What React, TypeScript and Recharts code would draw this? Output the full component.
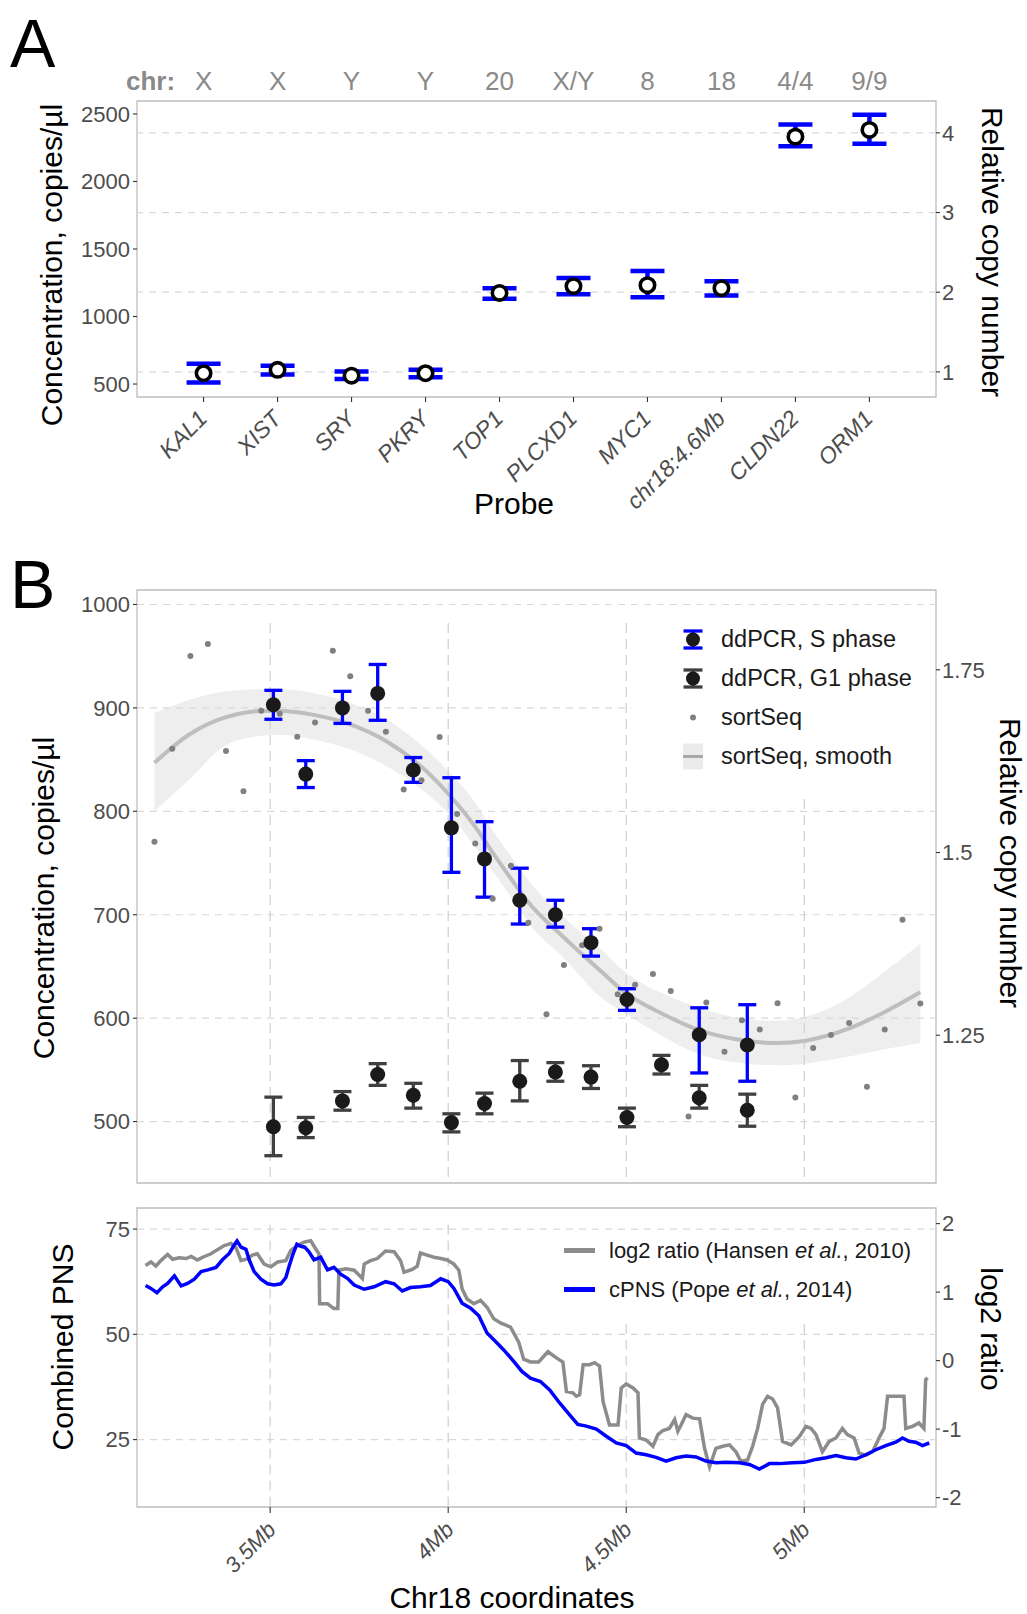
import React from "react"
import { Area, ComposedChart, ErrorBar, Legend, Line, ReferenceArea, ReferenceLine, Scatter, XAxis, YAxis } from "recharts"

const FONT = "'Liberation Sans', Arial, Helvetica, sans-serif"
const TICK_GREY = "#4D4D4D"
const GRID = "#D9D9D9"
const VGRID = "#CFCFCF"
const BORDER = "#BDBDBD"
const BLUE = "#0000FF"

// ---------- panel A: probes ----------
const probes = ["KAL1", "XIST", "SRY", "PKRY", "TOP1", "PLCXD1", "MYC1", "chr18:4.6Mb", "CLDN22", "ORM1"]
const probeChr = ["X", "X", "Y", "Y", "20", "X/Y", "8", "18", "4/4", "9/9"]
const probeConc = [580, 605, 562, 580, 1175, 1225, 1232, 1210, 2332, 2382]
const probeLow = [512, 570, 537, 550, 1132, 1165, 1142, 1155, 2260, 2280]
const probeHigh = [650, 635, 592, 605, 1210, 1285, 1337, 1262, 2422, 2495]
const concTicksA = [500, 1000, 1500, 2000, 2500]
const copyTicksA = [1, 2, 3, 4]
const COPY_UNIT = 590 // copies/µl per relative copy

// ---------- panel B top: ddPCR vs sortSeq ----------
const mbTicks = [3.5, 4, 4.5, 5]
const sPhaseMb = [3.509, 3.6, 3.703, 3.802, 3.902, 4.009, 4.102, 4.201, 4.301, 4.401, 4.502, 4.705, 4.84]
const sPhase = [903, 836, 900, 914, 840, 784, 754, 714, 700, 673, 618, 584, 574]
const sPhaseLow = [889, 823, 885, 888, 828, 741, 717, 691, 688, 660, 607.5, 547, 539]
const sPhaseHigh = [917, 849, 916, 942, 852, 832.5, 790, 745, 714, 686.5, 628.5, 610, 613]

const g1Mb = [3.509, 3.6, 3.703, 3.802, 3.902, 4.009, 4.102, 4.201, 4.301, 4.401, 4.502, 4.599, 4.705, 4.84]
const g1 = [495, 494, 520, 545.5, 525.5, 499, 517.5, 539, 548, 543, 504, 555, 523, 511]
const g1Low = [467, 484.5, 511, 535, 513, 490, 507.5, 520, 539, 532, 495, 546, 513, 495.5]
const g1High = [523.6, 504, 529, 556, 537, 507.5, 527.5, 559, 557, 554, 513, 564, 535, 526.5]

const sortMb = [3.175, 3.225, 3.276, 3.325, 3.376, 3.425, 3.475, 3.527, 3.576, 3.626, 3.676, 3.725, 3.775, 3.825, 3.875,
  3.925, 3.976, 4.025, 4.076, 4.125, 4.176, 4.225, 4.276, 4.325, 4.376, 4.425, 4.476, 4.525, 4.575, 4.625, 4.675, 4.725,
  4.776, 4.825, 4.875, 4.925, 4.975, 5.025, 5.075, 5.126, 5.176, 5.226, 5.276, 5.326]
const sortConc = [770.6, 860.4, 950.3, 961.7, 858.3, 819.3, 897.3, 894.4, 872.2, 885.8, 955.3, 930.6, 897.3, 876.9, 821,
  830, 871.9, 797.4, 768.8, 715.5, 747.3, 692.2, 603.8, 651.4, 670.4, 686.5, 623.1, 632.4, 642.8, 626.3, 505, 615.2,
  567.6, 598, 589.1, 614.5, 523.3, 571.2, 583.8, 595.2, 533.6, 589.1, 695.1, 614.2]

const smoothMb = [3.175, 3.276, 3.376, 3.475, 3.527, 3.626, 3.725, 3.825, 3.925, 4.0, 4.076, 4.125, 4.176, 4.225, 4.325,
  4.427, 4.5, 4.6, 4.705, 4.84, 4.925, 5.0, 5.126, 5.226, 5.326]
const smoothFit = [847, 875, 891, 897, 897, 893, 884, 868, 843, 817, 785, 760, 735, 712, 678, 646, 624, 604.5, 588.4, 578,
  576, 578, 590, 606, 625]
const smoothLow = [800, 832, 864, 873, 874, 869, 860, 844, 821, 798, 765.6, 742.3, 717.3, 692.2, 658.2, 620.6, 604, 583,
  565, 556, 554.4, 556, 563, 570, 576]
const smoothHigh = [895, 908, 916, 918, 918, 914, 905, 889, 864, 839, 808.5, 781.7, 756.6, 733.4, 697.6, 667.1, 644, 624.2,
  610, 599, 597.4, 601, 620, 645, 672]
const concTicksB = [500, 600, 700, 800, 900, 1000]
const relTicksB = [1.25, 1.5, 1.75]

// ---------- panel B bottom: PNS and log2 ratio ----------
const cpnsMb = [3.15, 3.165, 3.182, 3.198, 3.212, 3.231, 3.25, 3.268, 3.287, 3.306, 3.325, 3.348, 3.366, 3.385, 3.399,
  3.407, 3.418, 3.432, 3.441, 3.455, 3.474, 3.493, 3.511, 3.53, 3.544, 3.553, 3.563, 3.575, 3.586, 3.597, 3.609, 3.623,
  3.642, 3.661, 3.679, 3.698, 3.717, 3.736, 3.764, 3.792, 3.824, 3.848, 3.871, 3.894, 3.922, 3.95, 3.979, 4.0, 4.016,
  4.039, 4.063, 4.086, 4.109, 4.133, 4.156, 4.184, 4.207, 4.231, 4.259, 4.285, 4.313, 4.341, 4.364, 4.388, 4.416, 4.444,
  4.472, 4.5, 4.528, 4.556, 4.584, 4.612, 4.64, 4.668, 4.696, 4.724, 4.752, 4.78, 4.818, 4.846, 4.874, 4.902, 4.93, 4.967,
  5.0, 5.033, 5.061, 5.089, 5.117, 5.145, 5.173, 5.201, 5.229, 5.257, 5.276, 5.294, 5.313, 5.332, 5.351]
const cpns = [61.6, 60.9, 59.9, 61.3, 62.1, 63.9, 61.5, 62.1, 63.1, 64.9, 65.3, 65.9, 67.7, 69.2, 71.2, 72.2, 70.7, 70.2,
  67.7, 64.9, 63.1, 62.0, 61.7, 62.0, 63.5, 66.1, 68.8, 71.4, 70.9, 70.7, 69.6, 67.7, 68.3, 65.3, 65.9, 64.3, 63.3, 61.7,
  60.7, 61.3, 62.5, 62.0, 60.3, 61.1, 61.3, 61.6, 63.2, 62.5, 60.9, 57.4, 56.2, 54.4, 50.3, 48.3, 46.3, 43.6, 41.2, 39.6,
  38.8, 36.8, 33.7, 30.9, 28.6, 28.2, 27.5, 25.8, 24.2, 23.6, 21.8, 21.4, 20.8, 19.9, 20.7, 21.1, 20.9, 19.9, 19.5, 19.6,
  19.5, 19.1, 18.0, 19.3, 19.3, 19.5, 19.6, 20.3, 20.7, 21.2, 20.7, 20.4, 21.4, 22.6, 23.6, 24.4, 25.4, 24.6, 24.4, 23.6,
  24.2]

const log2Mb = [3.15, 3.165, 3.179, 3.193, 3.212, 3.226, 3.245, 3.264, 3.278, 3.296, 3.315, 3.334, 3.352, 3.371, 3.39,
  3.404, 3.418, 3.437, 3.45, 3.464, 3.483, 3.502, 3.521, 3.544, 3.558, 3.577, 3.595, 3.614, 3.628, 3.637, 3.639, 3.661,
  3.679, 3.69, 3.693, 3.712, 3.736, 3.759, 3.764, 3.782, 3.801, 3.824, 3.848, 3.866, 3.876, 3.899, 3.913, 3.922, 3.941,
  3.96, 3.979, 3.997, 4.016, 4.03, 4.039, 4.053, 4.072, 4.091, 4.109, 4.128, 4.147, 4.175, 4.198, 4.212, 4.231, 4.254,
  4.28, 4.304, 4.322, 4.332, 4.35, 4.36, 4.369, 4.379, 4.397, 4.411, 4.425, 4.435, 4.453, 4.477, 4.486, 4.5, 4.519, 4.533,
  4.537, 4.556, 4.575, 4.589, 4.603, 4.621, 4.636, 4.645, 4.654, 4.668, 4.687, 4.706, 4.72, 4.734, 4.752, 4.771, 4.79,
  4.808, 4.822, 4.841, 4.855, 4.869, 4.883, 4.897, 4.911, 4.925, 4.939, 4.963, 4.986, 5.005, 5.019, 5.033, 5.051, 5.07,
  5.089, 5.107, 5.121, 5.14, 5.154, 5.173, 5.192, 5.21, 5.224, 5.234, 5.257, 5.28, 5.285, 5.304, 5.322, 5.336, 5.341,
  5.346]
const log2Ratio = [1.39, 1.44, 1.38, 1.46, 1.55, 1.48, 1.5, 1.49, 1.52, 1.47, 1.52, 1.56, 1.62, 1.68, 1.71, 1.65, 1.46,
  1.49, 1.54, 1.56, 1.41, 1.37, 1.44, 1.46, 1.61, 1.68, 1.73, 1.75, 1.63, 1.56, 0.83, 0.83, 0.76, 0.76, 1.32, 1.34, 1.32,
  1.2, 1.41, 1.46, 1.49, 1.6, 1.59, 1.46, 1.29, 1.33, 1.38, 1.57, 1.54, 1.51, 1.49, 1.47, 1.41, 1.32, 1.05, 0.9, 0.83,
  0.88, 0.78, 0.61, 0.55, 0.49, 0.27, 0.02, -0.02, -0.02, 0.13, 0.04, -0.02, -0.45, -0.47, -0.52, -0.5, -0.06, -0.06,
  -0.03, -0.08, -0.6, -0.94, -0.94, -0.4, -0.34, -0.4, -0.47, -1.13, -1.16, -1.25, -1.08, -1.02, -0.99, -0.86, -1.03,
  -0.94, -0.79, -0.84, -0.85, -1.28, -1.55, -1.28, -1.25, -1.23, -1.33, -1.47, -1.45, -1.25, -0.99, -0.64, -0.52, -0.56,
  -0.69, -1.18, -1.23, -1.11, -0.96, -0.99, -1.08, -1.33, -1.18, -1.13, -0.99, -1.08, -1.13, -1.35, -1.38, -1.33, -1.13,
  -0.99, -0.52, -0.52, -0.52, -0.99, -0.96, -0.91, -0.99, -0.28, -0.25]
const pnsTicks = [25, 50, 75]
const log2Ticks = [-2, -1, 0, 1, 2]

// axis ranges
const A_X: [number, number] = [0.1, 10.9]
const A_Y: [number, number] = [404, 2596]
const A_R: [number, number] = [A_Y[0] / COPY_UNIT, A_Y[1] / COPY_UNIT]
const B_X: [number, number] = [3.126, 5.37]
const B_Y: [number, number] = [440.6, 1014]
const B_R: [number, number] = [1.0478, 1.8592]
const C_Y: [number, number] = [9, 80]
const C_R: [number, number] = [-2.137, 2.228]

// where the legends hide the grid
const legTopConc = 982
const legBottomConc = 812
const legLeftMb = 4.515
const vTopPns = 76
const legBottomPns = 52.5
const legLeftPnsMb = 4.3

const probeRows = probes.map((p, i) => ({
  x: i + 1, y: probeConc[i], err: [probeConc[i] - probeLow[i], probeHigh[i] - probeConc[i]],
}))
const sRows = sPhaseMb.map((x, i) => ({ x, y: sPhase[i], err: [sPhase[i] - sPhaseLow[i], sPhaseHigh[i] - sPhase[i]] }))
const g1Rows = g1Mb.map((x, i) => ({ x, y: g1[i], err: [g1[i] - g1Low[i], g1High[i] - g1[i]] }))
const sortRows = sortMb.map((x, i) => ({ x, y: sortConc[i] }))
const smoothRows = smoothMb.map((x, i) => ({ x, fit: smoothFit[i], band: [smoothLow[i], smoothHigh[i]] }))
const bottomRows = [
  ...cpnsMb.map((x, i) => ({ x, pns: cpns[i] })),
  ...log2Mb.map((x, i) => ({ x, log2: log2Ratio[i] })),
].sort((a, b) => a.x - b.x)

const tickStyle = { fill: TICK_GREY, fontSize: 22, fontFamily: FONT }
const tickLine = { stroke: "#333333", strokeWidth: 1.1 }

const ChrTick = (props: any) => (
  <text x={props.x} y={90} textAnchor="middle" fill="#8A8A8A" fontSize={26} fontFamily={FONT}>
    {probeChr[Math.round(props.payload.value) - 1]}
  </text>
)

const ProbeTick = (props: any) => {
  const ax = props.x + 5
  const ay = props.y + 16
  return (
    <text x={ax} y={ay} transform={`rotate(-45 ${ax} ${ay})`} textAnchor="end" fill={TICK_GREY}
      fontSize={23} fontStyle="italic" fontFamily={FONT}>
      {probes[Math.round(props.payload.value) - 1]}
    </text>
  )
}

const MbTick = (props: any) => {
  const ax = props.x + 7
  const ay = props.y + 16
  return (
    <text x={ax} y={ay} transform={`rotate(-45 ${ax} ${ay})`} textAnchor="end" fill={TICK_GREY}
      fontSize={22} fontStyle="italic" fontFamily={FONT}>
      {`${props.payload.value}Mb`}
    </text>
  )
}

const openCircle = (p: any) => <circle cx={p.cx} cy={p.cy} r={7.2} fill="#FFFFFF" stroke="#000000" strokeWidth={3.6} />
const bigDot = (p: any) => <circle cx={p.cx} cy={p.cy} r={7.5} fill="#1A1A1A" />
const smallDot = (p: any) => <circle cx={p.cx} cy={p.cy} r={3} fill="#808080" />

const barKey = (color: string) => (
  <svg width={28} height={39}>
    <line x1={14} y1={11} x2={14} y2={28} stroke={color} strokeWidth={3.3} />
    <line x1={4.5} y1={11} x2={23.5} y2={11} stroke={color} strokeWidth={3.3} />
    <line x1={4.5} y1={28} x2={23.5} y2={28} stroke={color} strokeWidth={3.3} />
    <circle cx={14} cy={19.5} r={7} fill="#1A1A1A" />
  </svg>
)

const topLegendItems = [
  { label: "ddPCR, S phase", key: barKey(BLUE) },
  { label: "ddPCR, G1 phase", key: barKey("#404040") },
  { label: "sortSeq", key: <svg width={28} height={39}><circle cx={14} cy={19.5} r={3} fill="#808080" /></svg> },
  {
    label: "sortSeq, smooth",
    key: (
      <svg width={28} height={39}>
        <rect x={4} y={6.5} width={20} height={26} fill="#EBEBEB" />
        <line x1={4} y1={19.5} x2={24} y2={19.5} stroke="#A8A8A8" strokeWidth={3} />
      </svg>
    ),
  },
]

const TopLegend = () => (
  <div style={{ fontFamily: FONT, fontSize: 23.5, color: "#1A1A1A", background: "transparent" }}>
    {topLegendItems.map((it) => (
      <div key={it.label} style={{ display: "flex", alignItems: "center", height: 39 }}>
        {it.key}
        <span style={{ marginLeft: 14, whiteSpace: "nowrap" }}>{it.label}</span>
      </div>
    ))}
  </div>
)

const BottomLegend = () => (
  <div style={{ fontFamily: FONT, fontSize: 22, color: "#1A1A1A" }}>
    {[
      { color: "#8C8C8C", text: <>log2 ratio (Hansen <i>et al.</i>, 2010)</> },
      { color: BLUE, text: <>cPNS (Pope <i>et al.</i>, 2014)</> },
    ].map((it, i) => (
      <div key={i} style={{ display: "flex", alignItems: "center", height: 39 }}>
        <svg width={31} height={39}>
          <line x1={0} y1={19.5} x2={31} y2={19.5} stroke={it.color} strokeWidth={5} />
        </svg>
        <span style={{ marginLeft: 14, whiteSpace: "nowrap" }}>{it.text}</span>
      </div>
    ))}
  </div>
)

const frame = (x: [number, number], y: [number, number], yId: string) => (
  <ReferenceArea yAxisId={yId} x1={x[0]} x2={x[1]} y1={y[0]} y2={y[1]} fill="none" stroke={BORDER}
    strokeWidth={1.3} ifOverflow="visible" />
)

const Title = ({ x, y, angle = 0, size = 30, children }: any) => (
  <text transform={`translate(${x} ${y}) rotate(${angle})`} textAnchor="middle" dominantBaseline="central"
    fontSize={size} fontFamily={FONT} fill="#000000">
    {children}
  </text>
)

export default function App() {
  return (
    <div style={{ position: "absolute", left: 0, top: 0, width: 1027, height: 1614, background: "#FFFFFF" }}>
      {/* A */}
      <div style={{ position: "absolute", left: 0, top: 0 }}>
        <ComposedChart width={1027} height={540} margin={{ top: 61, right: 0, bottom: 0, left: 0 }}>
          <XAxis xAxisId="chr" orientation="top" type="number" dataKey="x" domain={A_X} ticks={probeRows.map((r) => r.x)}
            height={40} axisLine={false} tickLine={false} tick={<ChrTick />} interval={0} allowDataOverflow />
          <XAxis type="number" dataKey="x" domain={A_X} ticks={probeRows.map((r) => r.x)} height={143}
            axisLine={false} tickLine={tickLine} tickSize={5} tickMargin={2} tick={<ProbeTick />} interval={0}
            allowDataOverflow />
          <YAxis yAxisId="left" type="number" domain={A_Y} ticks={concTicksA} width={137} axisLine={false}
            tickLine={tickLine} tickSize={4} tickMargin={3} tick={tickStyle} interval={0} allowDataOverflow />
          <YAxis yAxisId="right" orientation="right" type="number" domain={A_R} ticks={copyTicksA} width={91}
            axisLine={false} tickLine={tickLine} tickSize={4} tickMargin={2} tick={tickStyle} interval={0}
            allowDataOverflow />
          {copyTicksA.map((v) => (
            <ReferenceLine key={v} yAxisId="right" y={v} stroke={GRID} strokeWidth={1.2} strokeDasharray="7 6" />
          ))}
          {frame(A_X, A_Y, "left")}
          <Scatter yAxisId="left" data={probeRows} dataKey="y" shape={openCircle} isAnimationActive={false}>
            <ErrorBar dataKey="err" direction="y" width={17} stroke={BLUE} strokeWidth={4.5} />
          </Scatter>
        </ComposedChart>
      </div>

      {/* B top */}
      <div style={{ position: "absolute", left: 0, top: 540 }}>
        <ComposedChart width={1027} height={660} data={smoothRows} margin={{ top: 50, right: 0, bottom: 0, left: 0 }}>
          <XAxis type="number" dataKey="x" domain={B_X} ticks={mbTicks} height={17} axisLine={false}
            tickLine={tickLine} tickSize={6} tick={false} interval={0} allowDataOverflow />
          <YAxis yAxisId="left" type="number" domain={B_Y} ticks={concTicksB} width={137} axisLine={false}
            tickLine={tickLine} tickSize={4} tickMargin={3} tick={tickStyle} interval={0} allowDataOverflow />
          <YAxis yAxisId="right" orientation="right" type="number" domain={B_R} ticks={relTicksB} width={91}
            axisLine={false} tickLine={tickLine} tickSize={4} tickMargin={2} tick={tickStyle} interval={0}
            allowDataOverflow />
          {concTicksB.map((v) => (
            <ReferenceLine key={`h${v}`} yAxisId="left" stroke={GRID} strokeWidth={1.2} strokeDasharray="7 6"
              segment={[{ x: B_X[0], y: v }, { x: v > legBottomConc && v < legTopConc ? legLeftMb : B_X[1], y: v }]} />
          ))}
          {mbTicks.map((m) => (
            <ReferenceLine key={`v${m}`} yAxisId="left" stroke={VGRID} strokeWidth={1.2} strokeDasharray="10 6"
              segment={[{ x: m, y: m > legLeftMb ? legBottomConc : legTopConc }, { x: m, y: B_Y[0] }]} />
          ))}
          {frame(B_X, B_Y, "left")}
          <Area yAxisId="left" type="monotone" dataKey="band" fill="#EEEEEE" fillOpacity={1} stroke="none"
            dot={false} activeDot={false} isAnimationActive={false} />
          <Line yAxisId="left" type="monotone" dataKey="fit" stroke="#BEBEBE" strokeWidth={4} dot={false}
            activeDot={false} isAnimationActive={false} />
          <Scatter yAxisId="left" data={sortRows} dataKey="y" shape={smallDot} isAnimationActive={false} />
          <Scatter yAxisId="left" data={sRows} dataKey="y" shape={bigDot} isAnimationActive={false}>
            <ErrorBar dataKey="err" direction="y" width={9} stroke={BLUE} strokeWidth={3.3} />
          </Scatter>
          <Scatter yAxisId="left" data={g1Rows} dataKey="y" shape={bigDot} isAnimationActive={false}>
            <ErrorBar dataKey="err" direction="y" width={9} stroke="#404040" strokeWidth={3.3} />
          </Scatter>
          <Legend content={<TopLegend />} layout="horizontal" verticalAlign="middle" align="center"
            wrapperStyle={{ left: 679, top: 80, width: 320, height: 160 }} />
        </ComposedChart>
      </div>

      {/* B bottom */}
      <div style={{ position: "absolute", left: 0, top: 1200 }}>
        <ComposedChart width={1027} height={414} data={bottomRows} margin={{ top: 8, right: 0, bottom: 0, left: 0 }}>
          <XAxis type="number" dataKey="x" domain={B_X} ticks={mbTicks} height={107} axisLine={false}
            tickLine={tickLine} tickSize={6} tickMargin={2} tick={<MbTick />} interval={0} allowDataOverflow />
          <YAxis yAxisId="left" type="number" domain={C_Y} ticks={pnsTicks} width={137} axisLine={false}
            tickLine={tickLine} tickSize={4} tickMargin={3} tick={tickStyle} interval={0} allowDataOverflow />
          <YAxis yAxisId="right" orientation="right" type="number" domain={C_R} ticks={log2Ticks} width={91}
            axisLine={false} tickLine={tickLine} tickSize={4} tickMargin={2} tick={tickStyle} interval={0}
            allowDataOverflow />
          {pnsTicks.map((v) => (
            <ReferenceLine key={`h${v}`} yAxisId="left" y={v} stroke={GRID} strokeWidth={1.2} strokeDasharray="7 6" />
          ))}
          {mbTicks.map((m) => (
            <ReferenceLine key={`v${m}`} yAxisId="left" stroke={VGRID} strokeWidth={1.2} strokeDasharray="10 6"
              segment={[{ x: m, y: m > legLeftPnsMb ? legBottomPns : vTopPns }, { x: m, y: C_Y[0] }]} />
          ))}
          {frame(B_X, C_Y, "left")}
          <Line yAxisId="right" type="linear" dataKey="log2" stroke="#8C8C8C" strokeWidth={3.5} dot={false}
            activeDot={false} connectNulls isAnimationActive={false} />
          <Line yAxisId="left" type="linear" dataKey="pns" stroke={BLUE} strokeWidth={3.5} dot={false}
            activeDot={false} connectNulls isAnimationActive={false} />
          <Legend content={<BottomLegend />} layout="horizontal" verticalAlign="middle" align="center"
            wrapperStyle={{ left: 564, top: 31, width: 380, height: 80 }} />
        </ComposedChart>
      </div>

      {/* panel letters and axis titles */}
      <svg width={1027} height={1614} style={{ position: "absolute", left: 0, top: 0, pointerEvents: "none" }}>
        <text x={10} y={67} fontSize={68} fontFamily={FONT}>A</text>
        <text x={10} y={608} fontSize={68} fontFamily={FONT}>B</text>
        <text x={126} y={90} fontSize={26} fontWeight="bold" fontFamily={FONT} fill="#8A8A8A">chr:</text>
        <Title x={51} y={265} angle={-90}>Concentration, copies/µl</Title>
        <Title x={992} y={252} angle={90}>Relative copy number</Title>
        <Title x={514} y={503}>Probe</Title>
        <Title x={43} y={898} angle={-90}>Concentration, copies/µl</Title>
        <Title x={1010} y={863} angle={90}>Relative copy number</Title>
        <Title x={62} y={1347} angle={-90}>Combined PNS</Title>
        <Title x={991} y={1329} angle={90}>log2 ratio</Title>
        <Title x={512} y={1597}>Chr18 coordinates</Title>
      </svg>
    </div>
  )
}
